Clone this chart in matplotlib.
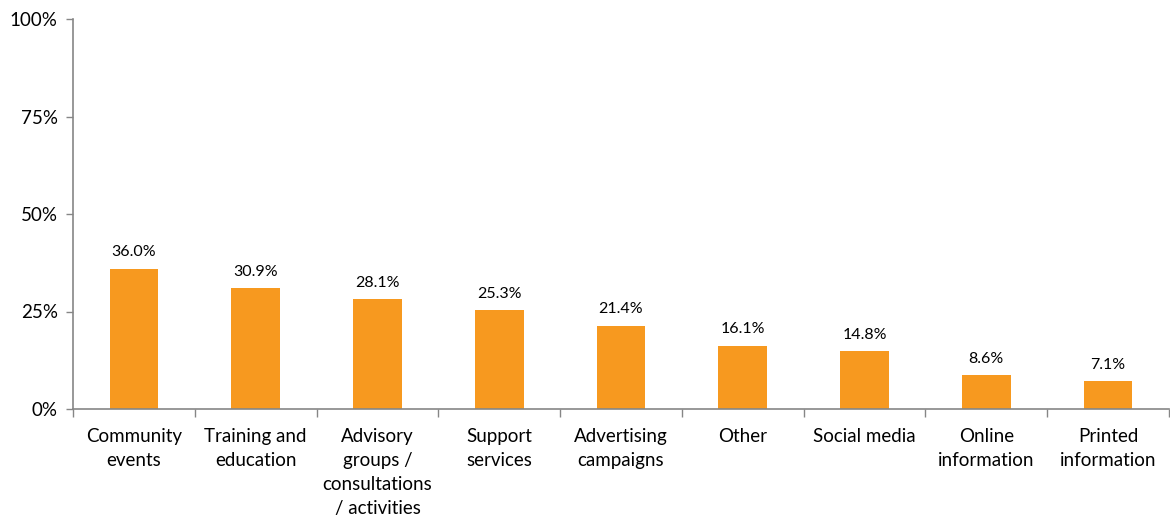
import matplotlib
matplotlib.use("Agg")
import matplotlib.pyplot as plt
from matplotlib.ticker import FixedLocator, PercentFormatter

plt.rcParams['font.family'] = ['Lato', 'DejaVu Sans']

categories = [
    "Community\nevents",
    "Training and\neducation",
    "Advisory\ngroups /\nconsultations\n/ activities",
    "Support\nservices",
    "Advertising\ncampaigns",
    "Other",
    "Social media",
    "Online\ninformation",
    "Printed\ninformation",
]
values = [36.0, 30.9, 28.1, 25.3, 21.4, 16.1, 14.8, 8.6, 7.1]
y_ticks = [0, 25, 50, 75, 100]

bar_color = "#F7991F"
axis_color = "#868686"

fig = plt.figure(figsize=(11.7, 5.21), dpi=100)
ax = fig.add_axes([73 / 1170, 1 - 409 / 521, (1169 - 73) / 1170, (409 - 19) / 521])

x = list(range(len(categories)))
bars = ax.bar(x, values, width=0.4, color=bar_color, zorder=2)

for xi, v in zip(x, values):
    ax.annotate(f"{v:.1f}%", (xi, v), xytext=(0, 7), textcoords="offset points",
                ha="center", va="bottom", fontsize=11.5, color="#000000")

ax.set_xlim(-0.5, len(categories) - 0.5)
ax.set_ylim(0, 100)
ax.yaxis.set_major_locator(FixedLocator(y_ticks))
ax.yaxis.set_major_formatter(PercentFormatter(decimals=0))

# category labels centered, tick marks on category boundaries
ax.set_xticks(x)
ax.set_xticklabels(categories, fontsize=13.5, linespacing=1.5)
ax.tick_params(axis="x", which="major", length=0, pad=14)
ax.set_xticks([i - 0.5 for i in range(len(categories) + 1)], minor=True)
ax.tick_params(axis="x", which="minor", length=6, width=1, color=axis_color, direction="out")
ax.tick_params(axis="y", length=5, width=1, color=axis_color, direction="out",
               labelsize=13.5, pad=6)

for side in ("top", "right"):
    ax.spines[side].set_visible(False)
for side in ("left", "bottom"):
    ax.spines[side].set_color(axis_color)
    ax.spines[side].set_linewidth(1.2)

fig.savefig("out.png", dpi=100)
